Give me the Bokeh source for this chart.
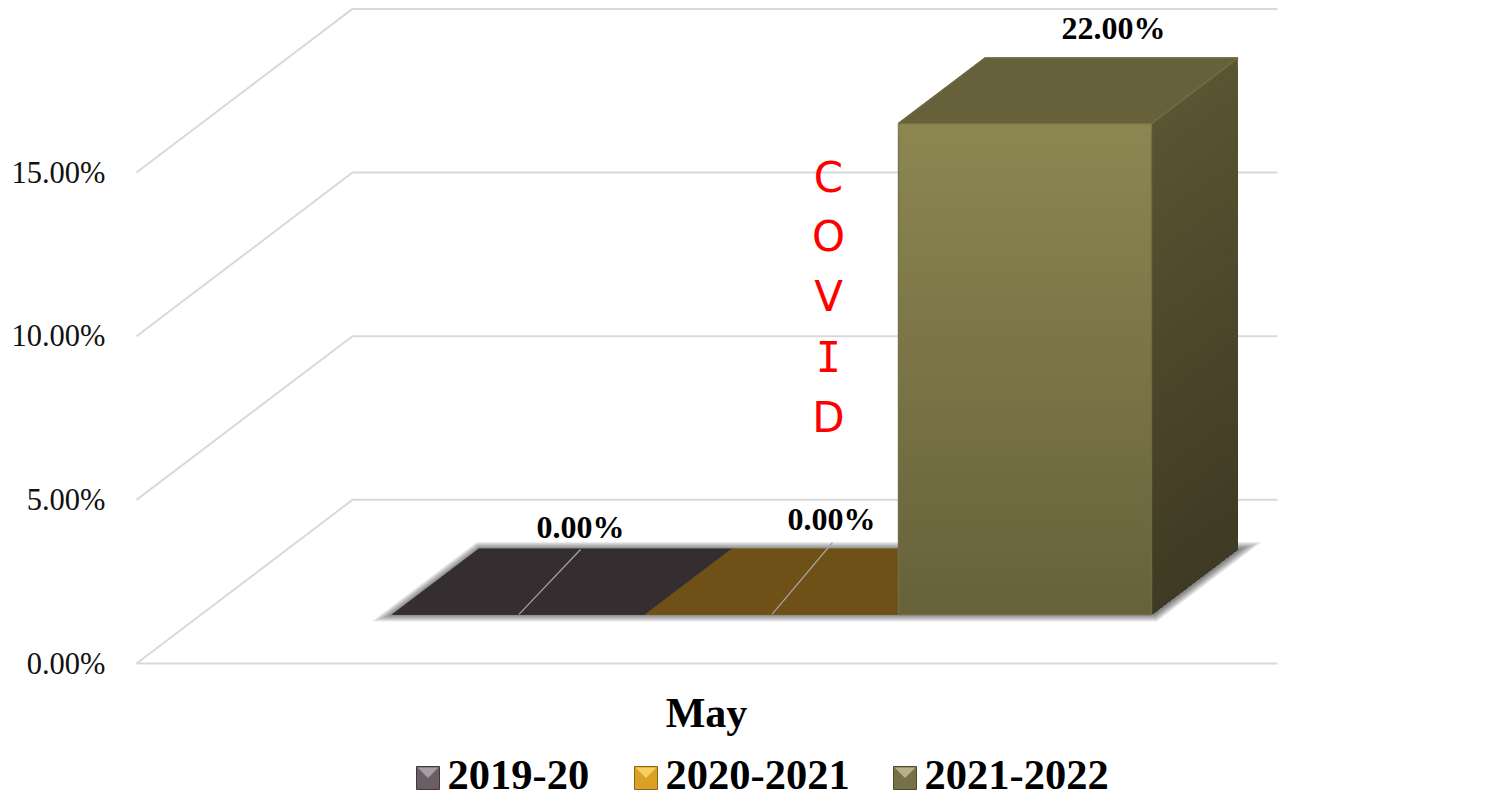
from bokeh.plotting import figure
from bokeh.models import Range1d, FixedTicker
from bokeh.core.properties import value
from bokeh.embed import file_html
from bokeh.resources import INLINE

# ---- data
seasons = ["2019-20", "2020-2021", "2021-2022"]
percent = [0.0, 0.0, 22.0]
value_labels = ["0.00%", "0.00%", "22.00%"]
y_ticks = [0, 5, 10, 15]
y_tick_labels = ["0.00%", "5.00%", "10.00%", "15.00%"]
category = "May"
note_letters = ["C", "O", "V", "I", "D"]
y_max = 15

# ---- styles
floor_colors = ["#352e30", "#6f5118", "#66613a"]
swatch_base = ["#6a5e64", "#d9a227", "#77714a"]
swatch_light = ["#a89da3", "#f6cf62", "#b7b185"]
swatch_edge = ["#40383c", "#8a6614", "#4f4a2c"]
front_top, front_bottom = (140, 134, 81), (103, 97, 59)
side_top, side_bottom = (90, 84, 50), (62, 58, 35)
GRID = "#d9d9d9"
SERIF = value("Liberation Serif")

# ---- geometry: one x unit is one bar, y unit is one percent
PX_X, PX_Y = 253.0, 32.73
ORIGIN_X, ORIGIN_Y = 136.0, 663.0   # pixel of the front-left floor corner
W, H = 1499, 800
BORDER_LEFT = 105
X = lambda px: (px - ORIGIN_X) / PX_X
Y = lambda px: (ORIGIN_Y - px) / PX_Y
DX, DY = 216 / PX_X, 5.0
Z0, Z1 = 0.3, 0.7
BAR_X0 = X(392) - Z0 * DX
RIGHT_END = X(1277)

def P(x, y, z):
    return x + z * DX, y + z * DY

p = figure(width=W, height=H, output_backend="svg", toolbar_location=None,
           x_range=Range1d(X(BORDER_LEFT), X(W)),
           y_range=Range1d(Y(H), Y(0)),
           min_border_left=BORDER_LEFT, min_border_right=0, min_border_top=0, min_border_bottom=0,
           outline_line_color=None, background_fill_color="white", border_fill_color="white")
p.grid.visible = False
p.xaxis.visible = False
ya = p.yaxis[0]
ya.ticker = FixedTicker(ticks=y_ticks)
ya.major_label_overrides = {t: s for t, s in zip(y_ticks, y_tick_labels)}
ya.axis_line_color = None
ya.major_tick_line_color = None
ya.minor_tick_line_color = None
ya.major_tick_out = 0
ya.major_label_standoff = 0
ya.major_label_text_font = "Liberation Serif"
ya.major_label_text_font_size = "30.5px"
ya.major_label_text_color = "#111111"

# ---- walls
for t in y_ticks:
    bx, by = P(0, t, 1)
    p.line([0, bx, RIGHT_END], [t, by, by], line_color=GRID, line_width=2)
p.line([0, RIGHT_END], [0, 0], line_color=GRID, line_width=2)

# ---- soft floor shadow: nested footprints growing outward, faint each
x_left = P(BAR_X0, 0, Z0)[0]
x_right = P(BAR_X0 + len(percent), 0, Z1)[0]
fy0, fy1 = P(0, 0, Z0)[1], P(0, 0, Z1)[1]
back_l = P(BAR_X0, 0, Z1)[0]
front_r = P(BAR_X0 + len(percent), 0, Z0)[0]
for r in [7, 6, 5, 4, 3, 2, 1, 0, -1, -2]:
    sx = [x_left - 2.98 * r / PX_X, back_l - 0.34 * r / PX_X,
          x_right + (3 + 2.98 * r) / PX_X, front_r + (3 + 0.34 * r) / PX_X]
    sy = [fy0 - r / PX_Y, fy1 + r / PX_Y, fy1 + r / PX_Y, fy0 - r / PX_Y]
    p.patch(sx, sy, fill_color="black", fill_alpha=.08, line_color=None)

# ---- bars
def mix(a, b, f):
    return "#%02x%02x%02x" % tuple(round(a[i] + (b[i] - a[i]) * f) for i in range(3))

STRIPS = 60
for i, v in enumerate(percent):
    x0, x1 = BAR_X0 + i, BAR_X0 + i + 1
    top = min(v, y_max)
    corners = [P(x0, top, Z0), P(x0, top, Z1), P(x1, top, Z1), P(x1, top, Z0)]
    p.patch([c[0] for c in corners], [c[1] for c in corners], fill_color=floor_colors[i],
            line_color=floor_colors[i], line_width=1)
    if top > 0:
        fl, fb = P(x0, 0, Z0)
        fr, _ = P(x1, 0, Z0)
        br, _ = P(x1, 0, Z1)
        # painted top-down, every strip reaching the base, so that no seams show
        for s in range(STRIPS):
            a = s / STRIPS
            y_hi = top * (1 - a)
            c = mix(front_top, front_bottom, a)
            p.patch([fl, fr, fr, fl], [fb, fb, y_hi + fb, y_hi + fb],
                    fill_color=c, line_color=None)
            c = mix(side_top, side_bottom, a)
            p.patch([fr, br, br, fr],
                    [Z0 * DY, Z1 * DY, y_hi + Z1 * DY, y_hi + Z0 * DY],
                    fill_color=c, line_color=None)
        # bevel highlights
        p.line([fl, fr, fr, fl, fl], [top + fb, top + fb, fb, fb, top + fb],
               line_color="#76704a", line_width=1.5, line_alpha=0.8)
        p.line([fr, br], [top + Z0 * DY, top + Z1 * DY], line_color="#6f6a42", line_width=2)
        p.line([fl, corners[1][0], br], [top + Z0 * DY, top + Z1 * DY, top + Z1 * DY],
               line_color="#6f6a42", line_width=1.5)

# ---- leader lines and value labels
label_px = [(580, 526), (831, 518), (1113, 27)]
leader_end_px = [(580, 549), (832, 542), None]
for i, lab in enumerate(value_labels):
    if leader_end_px[i]:
        cx, cy = P(BAR_X0 + i + .5, min(percent[i], y_max), Z0)
        ex, ey = leader_end_px[i]
        p.line([cx, X(ex)], [cy, Y(ey)], line_color="#a6a6a6", line_width=1.2)
    lx, ly = label_px[i]
    p.text([X(lx)], [Y(ly)], text=[lab], text_align="center", text_baseline="middle",
           text_font=SERIF, text_font_style="bold", text_font_size="32px", text_color="black")

# ---- COVID note
for letter, py in zip(note_letters, [177, 236, 296, 357, 417]):
    font = "DejaVu Sans Mono" if letter == "I" else "DejaVu Sans"
    p.text([X(828)], [Y(py)], text=[letter], text_align="center", text_baseline="middle",
           text_font=value(font), text_font_size="42px", text_color="#ff0000")

# ---- category label
p.text([X(706)], [Y(712)], text=[category], text_align="center", text_baseline="middle",
       text_font=SERIF, text_font_style="bold", text_font_size="42px", text_color="black")

# ---- legend
key_px = [416, 634, 893]
text_px = [447, 665, 924]
KEY, KEY_TOP = 23, 766
for i, name in enumerate(seasons):
    kx = key_px[i]
    xs = [X(kx), X(kx + KEY), X(kx + KEY), X(kx)]
    ys = [Y(KEY_TOP), Y(KEY_TOP), Y(KEY_TOP + KEY), Y(KEY_TOP + KEY)]
    p.patch(xs, ys, fill_color=swatch_base[i], line_color=swatch_edge[i], line_width=1)
    p.patch([X(kx + 1), X(kx + KEY - 1), X(kx + KEY / 2)],
            [Y(KEY_TOP + 1), Y(KEY_TOP + 1), Y(KEY_TOP + KEY / 2)],
            fill_color=swatch_light[i], line_color=None)
    p.text([X(text_px[i])], [Y(774)], text=[name], text_align="left", text_baseline="middle",
           text_font=SERIF, text_font_style="bold", text_font_size="42.5px", text_color="black")

open("out.html", "w").write(file_html(p, INLINE))
